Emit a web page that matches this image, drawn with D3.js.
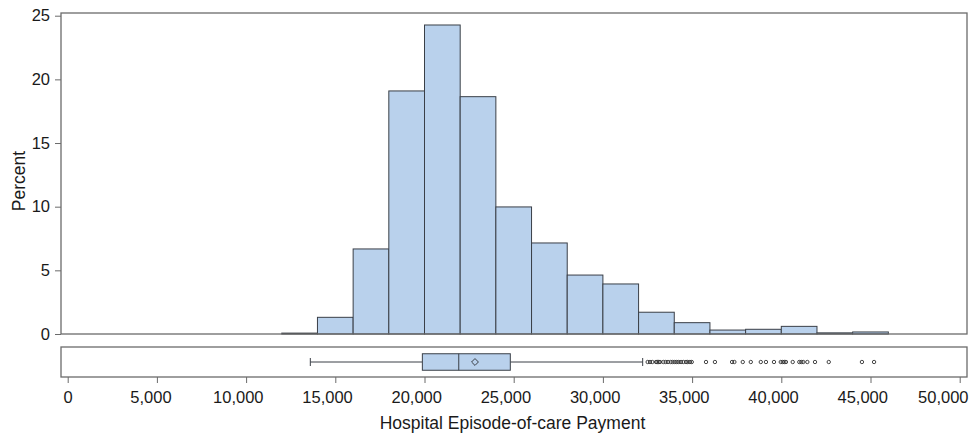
<!DOCTYPE html>
<html>
<head>
<meta charset="utf-8">
<script src="https://cdn.jsdelivr.net/npm/d3@7"></script>
<style>
  html, body { margin: 0; padding: 0; background: #fff; }
  svg { display: block; font-family: "Liberation Sans", Arial, sans-serif; }
</style>
</head>
<body>
<svg id="chart" width="971" height="437"></svg>
<script>
// ---- data ----
const binStarts = [12000, 14000, 16000, 18000, 20000, 22000, 24000, 26000, 28000, 30000, 32000, 34000, 36000, 38000, 40000, 42000, 44000];
const binWidth = 2000;
const percents = [0.07, 1.31, 6.68, 19.09, 24.27, 18.64, 9.98, 7.15, 4.63, 3.93, 1.71, 0.89, 0.31, 0.37, 0.60, 0.09, 0.16];
const boxStats = { whiskerLow: 13600, q1: 19880, median: 21920, mean: 22830, q3: 24810, whiskerHigh: 32230 };
const outliers = [32510, 32640, 32770, 32980, 33050, 33130, 33200, 33390, 33520, 33650, 33800, 33910, 34030, 34140, 34250, 34380, 34510, 34660, 34750, 34880, 34980,
  35780, 36280, 37240, 37370, 37840, 38290, 38850, 39140, 39590, 39970, 40080, 40170, 40260, 40640, 41010, 41120, 41230, 41460, 41890, 42660, 44520, 45200];
const xTicks = [0, 5000, 10000, 15000, 20000, 25000, 30000, 35000, 40000, 45000, 50000];
const yTicks = [0, 5, 10, 15, 20, 25];
const xTitle = "Hospital Episode-of-care Payment";
const yTitle = "Percent";

// ---- layout ----
const svg = d3.select("#chart");
const W = 971;
const frameLeft = 61, frameRight = 967;
const histTop = 13, histBottom = 334;
const boxTop = 347, boxBottom = 377;
const fill = "#b9d1ec", barStroke = "#3a3f47", frameStroke = "#6b6b6b", textColor = "#1a1a1a";
const tickFont = 16.5, titleFont = 17.5;

const x = d3.scaleLinear().domain([0, 50000]).range([67.7, 959.7]);
const y = d3.scaleLinear().domain([0, 25]).range([histBottom, 15.7]);

// histogram bars
svg.append("g").selectAll("rect").data(binStarts).join("rect")
  .attr("x", d => x(d))
  .attr("width", d => x(d + binWidth) - x(d))
  .attr("y", (d, i) => y(percents[i]))
  .attr("height", (d, i) => y(0) - y(percents[i]))
  .attr("fill", fill)
  .attr("stroke", barStroke)
  .attr("stroke-width", 1);

// histogram frame
svg.append("rect")
  .attr("x", frameLeft).attr("y", histTop)
  .attr("width", frameRight - frameLeft).attr("height", histBottom - histTop)
  .attr("fill", "none").attr("stroke", frameStroke).attr("stroke-width", 1.3);

// y axis
const yAxis = svg.append("g")
  .attr("transform", `translate(${frameLeft},0)`)
  .call(d3.axisLeft(y).tickValues(yTicks).tickSize(6).tickPadding(5).tickFormat(d3.format("d")));
yAxis.select(".domain").remove();
yAxis.selectAll(".tick line").attr("stroke", frameStroke);
yAxis.selectAll(".tick text").attr("font-size", tickFont).attr("fill", textColor)
  .attr("font-family", "\"Liberation Sans\", Arial, sans-serif");

svg.append("text")
  .attr("transform", `translate(25,181) rotate(-90)`)
  .attr("text-anchor", "middle")
  .attr("font-size", titleFont).attr("fill", textColor)
  .text(yTitle);

// box panel frame
svg.append("rect")
  .attr("x", frameLeft).attr("y", boxTop)
  .attr("width", frameRight - frameLeft).attr("height", boxBottom - boxTop)
  .attr("fill", "none").attr("stroke", frameStroke).attr("stroke-width", 1.3);

// box plot
const cy = 362, bh = 16.5;
const g = svg.append("g");
g.append("line").attr("x1", x(boxStats.whiskerLow)).attr("x2", x(boxStats.q1))
  .attr("y1", cy).attr("y2", cy).attr("stroke", barStroke);
g.append("line").attr("x1", x(boxStats.q3)).attr("x2", x(boxStats.whiskerHigh))
  .attr("y1", cy).attr("y2", cy).attr("stroke", barStroke);
[boxStats.whiskerLow, boxStats.whiskerHigh].forEach(v => {
  g.append("line").attr("x1", x(v)).attr("x2", x(v))
    .attr("y1", cy - 4).attr("y2", cy + 4).attr("stroke", barStroke);
});
g.append("rect").attr("x", x(boxStats.q1)).attr("y", cy - bh / 2)
  .attr("width", x(boxStats.q3) - x(boxStats.q1)).attr("height", bh)
  .attr("fill", fill).attr("stroke", barStroke);
g.append("line").attr("x1", x(boxStats.median)).attr("x2", x(boxStats.median))
  .attr("y1", cy - bh / 2).attr("y2", cy + bh / 2).attr("stroke", barStroke);
g.append("path")
  .attr("d", d3.symbol().type(d3.symbolDiamond2).size(30)())
  .attr("transform", `translate(${x(boxStats.mean)},${cy})`)
  .attr("fill", "none").attr("stroke", barStroke).attr("stroke-width", 1);
g.selectAll("circle.out").data(outliers).join("circle")
  .attr("class", "out")
  .attr("cx", d => x(d)).attr("cy", cy).attr("r", 1.7)
  .attr("fill", "none").attr("stroke", "#333").attr("stroke-width", 0.9);

// x axis
const xAxis = svg.append("g")
  .attr("transform", `translate(0,${boxBottom})`)
  .call(d3.axisBottom(x).tickValues(xTicks).tickSize(6).tickFormat(d3.format(",")));
xAxis.select(".domain").remove();
xAxis.selectAll(".tick line").attr("stroke", frameStroke);
xAxis.selectAll(".tick text")
  .attr("font-size", tickFont).attr("fill", textColor)
  .attr("font-family", "\"Liberation Sans\", Arial, sans-serif")
  .attr("dy", null)
  .attr("y", 26)
  .each(function (d) {
    const w = this.getComputedTextLength();
    let dx = -0.2 * (w - 9);
    const right = x(d) + dx + w / 2;
    if (right > W - 3) dx -= right - (W - 3);
    d3.select(this).attr("x", dx);
  });

svg.append("text")
  .attr("x", 512.5).attr("y", 429)
  .attr("text-anchor", "middle")
  .attr("font-size", titleFont).attr("fill", textColor)
  .text(xTitle);
</script>
</body>
</html>
